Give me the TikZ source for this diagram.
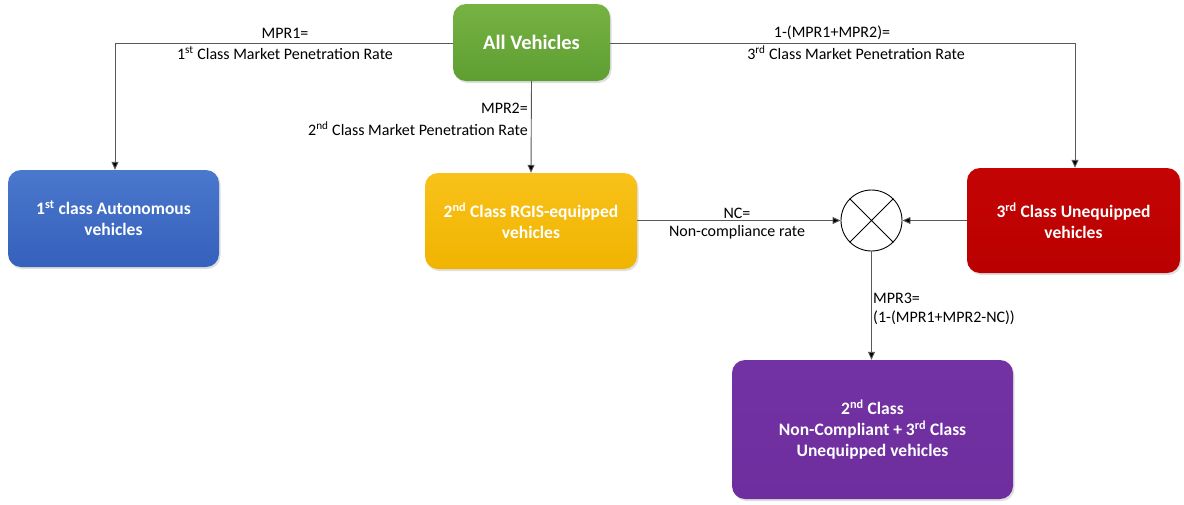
\documentclass[tikz,border=0pt]{standalone}
\usepackage{fontspec}
\setmainfont{Carlito}
\usetikzlibrary{arrows.meta,shadows}
\definecolor{gA}{HTML}{77B243}\definecolor{gB}{HTML}{5E9E32}
\definecolor{bA}{HTML}{4A78CC}\definecolor{bB}{HTML}{3560BC}
\definecolor{yA}{HTML}{F9C21A}\definecolor{yB}{HTML}{F0B400}
\definecolor{rA}{HTML}{C40404}\definecolor{rB}{HTML}{BA0000}
\definecolor{pA}{HTML}{7332A3}\definecolor{pB}{HTML}{6E2E9E}
\tikzset{
  box/.style={rounded corners=13pt, text=white, align=center, inner sep=0pt,
    font=\fontsize{17.5}{21}\selectfont\bfseries,
    drop shadow={shadow xshift=1.5pt,shadow yshift=-2pt,opacity=0.25}},
  lab/.style={font=\fontsize{16}{19}\selectfont, inner sep=0pt, text=black},
  conn/.style={draw=black!65, line width=0.9pt, -{Triangle[length=8pt,width=7pt,fill=black]}},
}
\newcommand{\sps}[1]{\textsuperscript{#1}}
\begin{document}
\begin{tikzpicture}[x=1pt,y=-1pt]
\useasboundingbox (0,0) rectangle (1184,504);
\fill[white] (0,0) rectangle (1184,504);
\node[box, top color=gA, bottom color=gB, minimum width=157pt, minimum height=77pt] (all) at (531.5,42.5) {\fontsize{20.5}{24}\selectfont All Vehicles};
\node[box, top color=bA, bottom color=bB, minimum width=211pt, minimum height=97pt] (c1) at (113.5,218.5) {1\sps{st} class Autonomous\\vehicles};
\node[box, top color=yA, bottom color=yB, minimum width=212pt, minimum height=96pt] (c2) at (531,221) {2\sps{nd} Class RGIS-equipped\\vehicles};
\node[box, top color=rA, bottom color=rB, minimum width=213pt, minimum height=105pt] (c3) at (1073.5,220.5) {3\sps{rd} Class Unequipped\\vehicles};
\node[box, top color=pA, bottom color=pB, minimum width=281pt, minimum height=139pt] (c4) at (872.5,429.5) {2\sps{nd} Class\\Non-Compliant + 3\sps{rd} Class\\Unequipped vehicles};
\node[circle, draw=black, line width=0.9pt, minimum size=61pt, inner sep=0pt, fill=white] (x) at (871.5,220.5) {};
\draw[black, line width=0.9pt] (x.north west) -- (x.south east) (x.north east) -- (x.south west);
\coordinate (k1) at (115,43);
\coordinate (k3) at (1075,43);
\draw[conn] (all.west |- 0,43) -| (c1.north -| k1);
\draw[conn] (all.east |- 0,43) -| (c3.north -| k3);
\draw[conn] (all.south) -- (c2.north);
\draw[conn] (c2.east |- x.west) -- (x.west);
\draw[conn] (c3.west |- x.east) -- (x.east);
\draw[conn] (x.south) -- (c4.north -| x.south);
\node[lab] (l1a) at (285,33) {MPR1=};
\node[lab] (l1b) at (285,53) {1\sps{st} Class Market Penetration Rate};
\node[lab] (l3a) at (832,33) {1-(MPR1+MPR2)=};
\node[lab] (l3b) at (856,53) {3\sps{rd} Class Market Penetration Rate};
\node[lab, anchor=east] (l2a) at (528,108) {MPR2=};
\node[lab, anchor=east] (l2b) at (528,129) {2\sps{nd} Class Market Penetration Rate};
\node[lab] (nca) at (737,213) {NC=};
\node[lab] (ncb) at (737,232) {Non-compliance rate};
\node[lab, anchor=west] (m3a) at (873,298) {MPR3=};
\node[lab, anchor=west] (m3b) at (873,318) {(1-(MPR1+MPR2-NC))};
\end{tikzpicture}
\end{document}
